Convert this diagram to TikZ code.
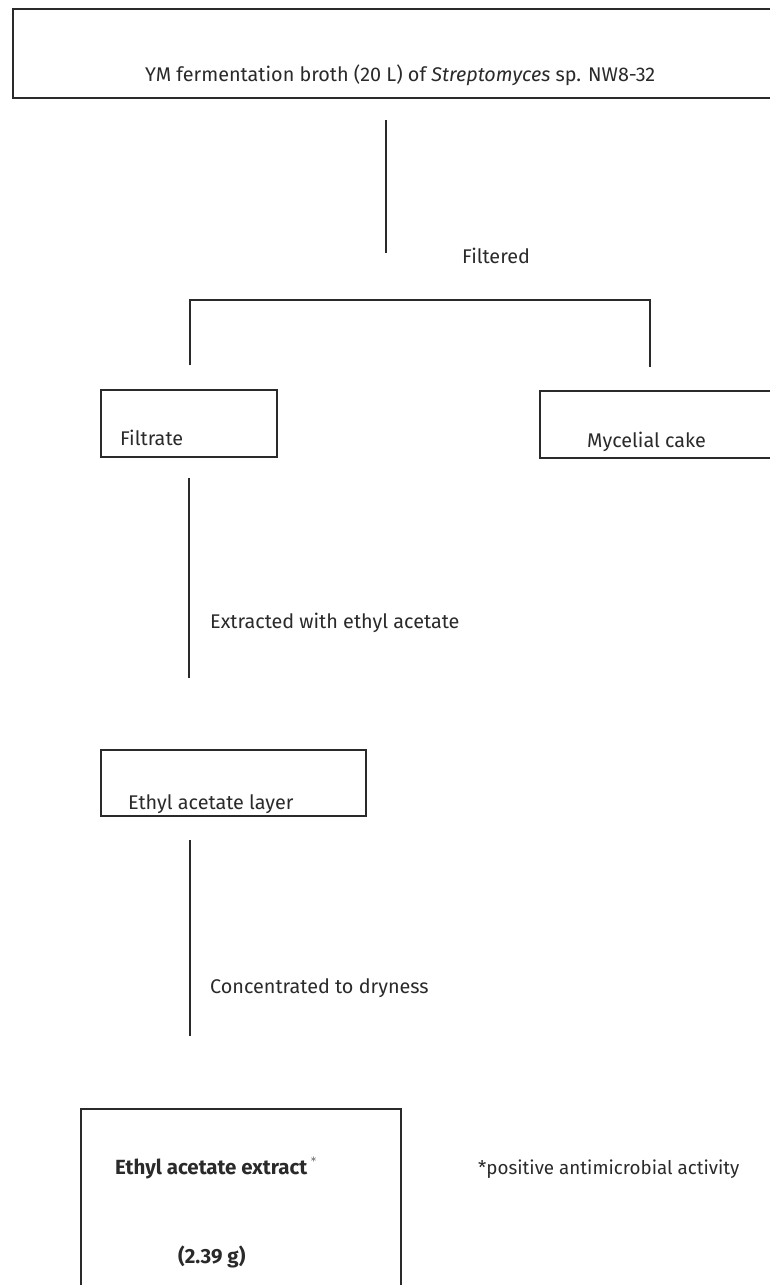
\documentclass[tikz,border=0pt]{standalone}
\usepackage{fontspec}
\setmainfont{Fira Sans}
\usetikzlibrary{positioning}
\definecolor{ink}{HTML}{2A2A2A}

\begin{document}
\begin{tikzpicture}[x=1pt, y=-1pt, ink, font=\fontsize{19.8}{23}\selectfont,
  stagebox/.style={draw=ink, line width=1.7pt, anchor=north west, inner sep=0pt},
  steptext/.style={anchor=base west, inner sep=0pt, text=ink},
  boldtext/.style={steptext, font=\fontsize{20.5}{24}\selectfont\bfseries},
  flow/.style={draw=ink, line width=1.5pt}]
  \useasboundingbox[fill=white] (0,0) rectangle (769,1285);

  % Kultivace
  \node[stagebox, minimum width=800pt, minimum height=89pt] (broth) at (12,8) {};
  \node[steptext] (brothtext) at (145,81) {YM fermentation broth (20 L) of \textit{Streptomyces} sp. NW8-32};

  % Filtrace
  \coordinate (filtA) at (386,120);
  \coordinate (filtB) at (386,253);
  \draw[flow] (filtA) -- (filtB);
  \node[steptext] (filtered) at (462,263) {Filtered};
  \coordinate (splitL) at (190,365);
  \coordinate (splitR) at (650,367);
  \draw[flow] (splitL) -- (190,300) -- (650,300) -- (splitR);

  \node[stagebox, minimum width=176pt, minimum height=67pt] (filtrate) at (100,389) {};
  \node[steptext] (filtratetext) at (120,445) {Filtrate};
  \node[stagebox, minimum width=260pt, minimum height=67pt] (cake) at (539,390) {};
  \node[steptext] (caketext) at (587,447) {Mycelial cake};

  % Extrakce
  \coordinate (extrA) at (189,478);
  \coordinate (extrB) at (189,678);
  \draw[flow] (extrA) -- (extrB);
  \node[steptext] (extracted) at (210,628) {Extracted with ethyl acetate};

  \node[stagebox, minimum width=265pt, minimum height=66pt] (layer) at (100,749) {};
  \node[steptext] (layertext) at (128,809) {Ethyl acetate layer};

  % Zahustit
  \coordinate (concA) at (190,840);
  \coordinate (concB) at (190,1036);
  \draw[flow] (concA) -- (concB);
  \node[steptext] (concentrated) at (210,993) {Concentrated to dryness};

  % Extrakt
  \node[stagebox, minimum width=320pt, minimum height=200pt] (extract) at (80,1108) {};
  \node[boldtext] (extracttext) at (115,1174) {Ethyl acetate extract\,\raisebox{1.1ex}{\fontsize{12}{12}\selectfont$\ast$}};
  \node[boldtext] (mass) at (178,1263) {(2.39 g)};
  \node[steptext, font=\fontsize{18.8}{22}\selectfont] (note) at (478,1174) {*positive antimicrobial activity};
\end{tikzpicture}
\end{document}
